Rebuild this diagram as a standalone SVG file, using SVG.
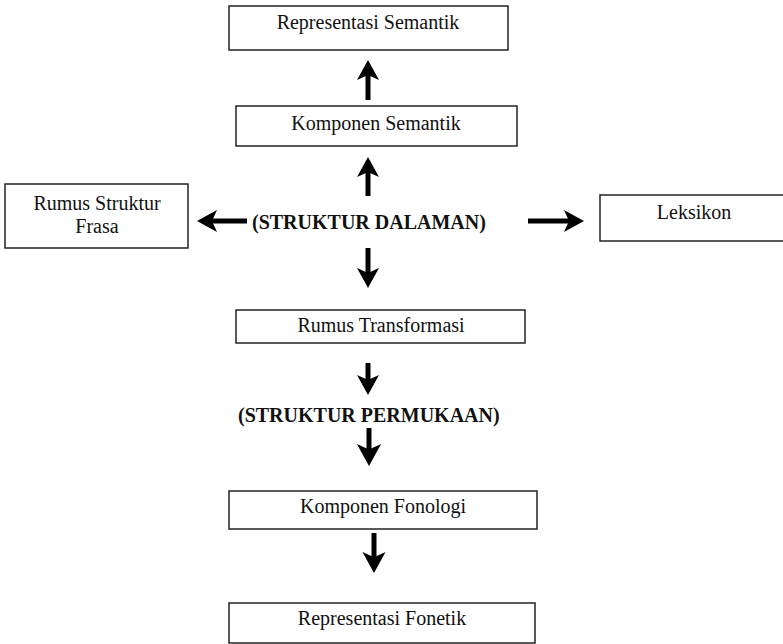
<svg xmlns="http://www.w3.org/2000/svg" xmlns:xlink="http://www.w3.org/1999/xlink" width="783" height="644" viewBox="0 0 783 644">
<style>
.box{fill:#fff;stroke:#222;stroke-width:1.5}
.t{font-family:"Liberation Serif","Times New Roman",serif;font-size:20px;fill:#111;text-anchor:middle}
.b{font-family:"Liberation Serif","Times New Roman",serif;font-size:20px;font-weight:bold;fill:#111}
.sh{stroke:#000;stroke-width:5;fill:none}
</style>
<defs>
<path id="ah" d="M0,0 L-20,-11 L-15,0 L-20,11 Z" fill="#000"/>
</defs>
<rect width="783" height="644" fill="#fff"/>
<g id="n1"><rect class="box" x="229" y="6" width="279" height="44"/><text class="t" x="368" y="29">Representasi Semantik</text></g>
<g id="n2"><rect class="box" x="236" y="106" width="281" height="40"/><text class="t" x="376" y="130">Komponen Semantik</text></g>
<g id="n3"><rect class="box" x="5" y="184" width="183" height="64"/><text class="t" x="97" y="210">Rumus Struktur</text><text class="t" x="97" y="233">Frasa</text></g>
<g id="n4"><text class="b" x="252" y="229">(STRUKTUR DALAMAN)</text></g>
<g id="n5"><rect class="box" x="600" y="195" width="186" height="46"/><text class="t" x="694" y="219">Leksikon</text></g>
<g id="n6"><rect class="box" x="236" y="310" width="289" height="33"/><text class="t" x="381" y="332">Rumus Transformasi</text></g>
<g id="n7"><text class="b" x="238" y="422">(STRUKTUR PERMUKAAN)</text></g>
<g id="n8"><rect class="box" x="229" y="491" width="308" height="38"/><text class="t" x="383" y="513">Komponen Fonologi</text></g>
<g id="n9"><rect class="box" x="229" y="603" width="306" height="40"/><text class="t" x="382" y="625">Representasi Fonetik</text></g>
<g id="connectors">
<line class="sh" x1="368" y1="100" x2="368" y2="72"/><use xlink:href="#ah" transform="translate(368,60) rotate(-90)"/>
<line class="sh" x1="368" y1="196" x2="368" y2="169"/><use xlink:href="#ah" transform="translate(368,157) rotate(-90)"/>
<line class="sh" x1="247" y1="221" x2="209" y2="221"/><use xlink:href="#ah" transform="translate(197,221) rotate(180)"/>
<line class="sh" x1="528" y1="221" x2="572" y2="221"/><use xlink:href="#ah" transform="translate(584,221)"/>
<line class="sh" x1="368" y1="248" x2="368" y2="276"/><use xlink:href="#ah" transform="translate(368,288) rotate(90)"/>
<line class="sh" x1="368" y1="363" x2="368" y2="383"/><use xlink:href="#ah" transform="translate(368,395) rotate(90)"/>
<line class="sh" x1="369" y1="428" x2="369" y2="452"/><use xlink:href="#ah" transform="translate(369,466) rotate(90) scale(1.1)"/>
<line class="sh" x1="374" y1="533" x2="374" y2="561"/><use xlink:href="#ah" transform="translate(374,573) rotate(90) scale(1.05)"/>
</g>
</svg>
